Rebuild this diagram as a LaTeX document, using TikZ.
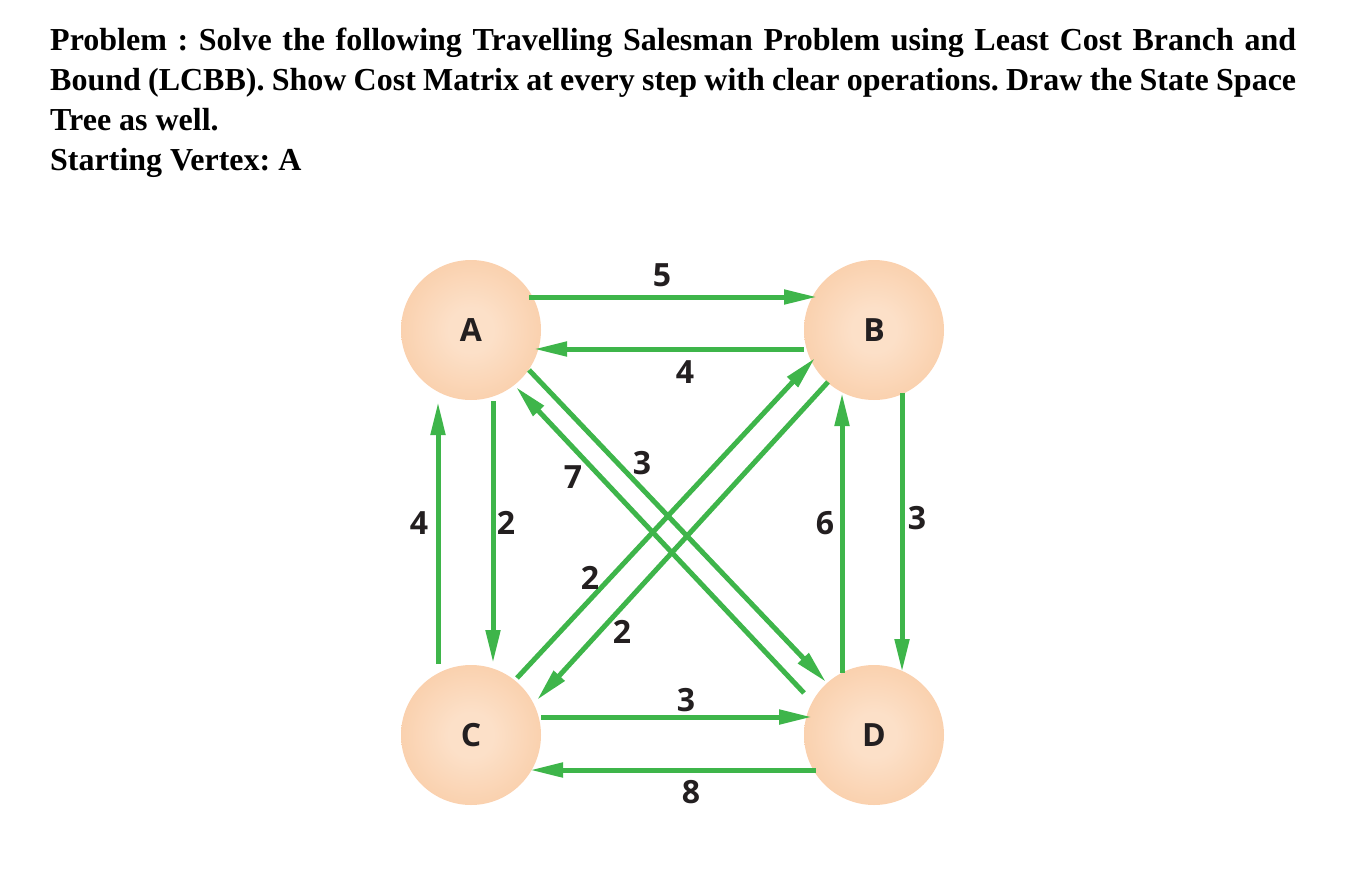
\documentclass[tikz,border=0pt]{standalone}
\usepackage{fontspec}
\usetikzlibrary{arrows.meta,calc}
\newfontfamily\titlefont{Liberation Serif}
\newfontfamily\lblfont{Open Sans}
\definecolor{edgegreen}{RGB}{62,181,74}
\definecolor{orin}{RGB}{252,224,200}
\definecolor{orout}{RGB}{247,187,137}
\definecolor{lbltext}{RGB}{35,31,32}
\pgfdeclareradialshading{peachball}{\pgfpoint{0bp}{0bp}}{color(0bp)=(orin); color(8bp)=(orin); color(50bp)=(orout)}
\tikzset{
  vert/.style={circle, minimum size=140pt, inner sep=0pt, shading=peachball,
    font=\lblfont\bfseries\fontsize{32}{36}\selectfont, text=lbltext},
  lbl/.style={inner sep=0pt, font=\lblfont\bfseries\fontsize{32}{36}\selectfont, text=lbltext},
  edge/.style={draw=edgegreen, line width=5pt, -{Triangle[length=33pt,width=14pt]}}
}
\begin{document}
\begin{tikzpicture}[x=1pt,y=-1pt]
\useasboundingbox (0,0) rectangle (1360,878);
\node[anchor=north west, inner sep=0pt, text width=1246pt, align=justify,
  font=\titlefont\bfseries\fontsize{32}{40}\selectfont\frenchspacing] (title) at (50,28)
  {Problem : Solve the following Travelling Salesman Problem using Least Cost Branch and\linebreak
   Bound (LCBB). Show Cost Matrix at every step with clear operations. Draw the State Space\linebreak
   Tree as well.\newline
   Starting Vertex: A};
\node[vert] (A) at (471,330) {A};
\node[vert] (B) at (874,330) {B};
\node[vert] (C) at (471,735) {C};
\node[vert] (D) at (874,735) {D};
% edges
\draw[edge] ($(A)+(58,-33)$) -- ($(B)+(-57,-33)$);
\draw[edge] ($(B)+(-70,19)$) -- ($(A)+(63,19)$);
\draw[edge] ($(A)+(22,71)$) -- ($(C)+(22,-72)$);
\draw[edge] ($(C)+(-33,-71)$) -- ($(A)+(-33,72)$);
\draw[edge] ($(C)+(46,-57)$) -- ($(B)+(-59,28)$);
\draw[edge] ($(B)+(-46,52)$) -- ($(C)+(66,-35)$);
\draw[edge] ($(A)+(58,40)$) -- ($(D)+(-48,-53)$);
\draw[edge] ($(D)+(-70,-42)$) -- ($(A)+(45,57)$);
\draw[edge] ($(B)+(28,63)$) -- ($(D)+(28,-63)$);
\draw[edge] ($(D)+(-32,-62)$) -- ($(B)+(-32,63)$);
\draw[edge] ($(C)+(70,-18)$) -- ($(D)+(-62,-18)$);
\draw[edge] ($(D)+(-58,35)$) -- ($(C)+(59,35)$);
% labels
\node[lbl] (lAB) at (662,275) {5};
\node[lbl] (lBA) at (685,372) {4};
\node[lbl] (lAC) at (506,523) {2};
\node[lbl] (lCA) at (419,523) {4};
\node[lbl] (lCB) at (590,578) {2};
\node[lbl] (lBC) at (622,632) {2};
\node[lbl] (lAD) at (642,463) {3};
\node[lbl] (lDA) at (573,477) {7};
\node[lbl] (lBD) at (917,518) {3};
\node[lbl] (lDB) at (825,523) {6};
\node[lbl] (lCD) at (686,700) {3};
\node[lbl] (lDC) at (691,792) {8};
\end{tikzpicture}
\end{document}
